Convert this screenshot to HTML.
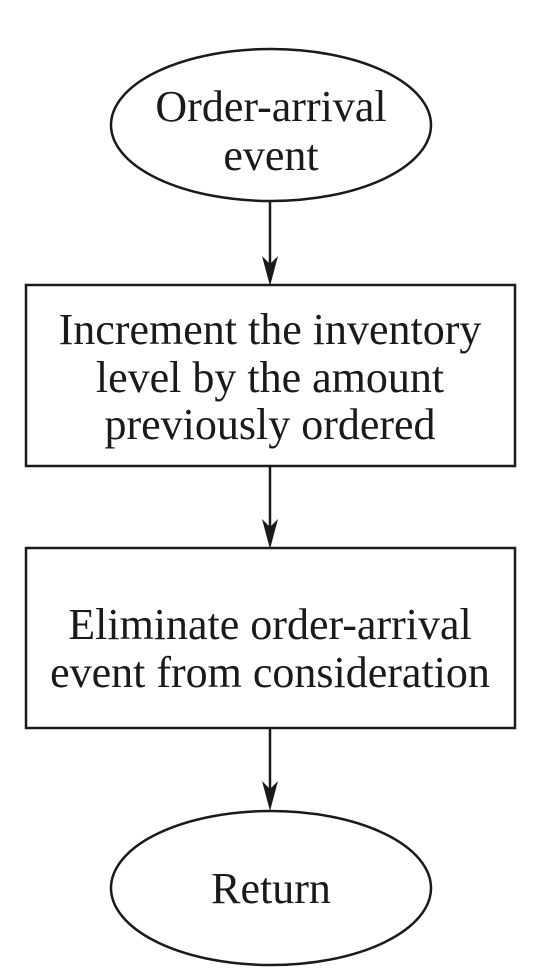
<!DOCTYPE html>
<html><head><style>
html,body{margin:0;padding:0;background:#fff;}
svg{display:block;}
text{font-family:"Liberation Serif",serif;font-size:44px;fill:#1a1a1a;text-anchor:middle;}
</style></head><body>
<svg width="544" height="978" viewBox="0 0 544 978" xmlns="http://www.w3.org/2000/svg">
<g fill="none" stroke="#1a1a1a" stroke-width="2.5">
<ellipse cx="271" cy="125" rx="160" ry="76"/>
<rect x="26" y="285" width="489" height="181"/>
<rect x="26" y="548" width="489" height="180"/>
<ellipse cx="271" cy="888" rx="160" ry="77"/>
<line x1="270" y1="201" x2="270" y2="270"/>
<line x1="270" y1="466" x2="270" y2="533"/>
<line x1="270" y1="728" x2="270" y2="796"/>
</g>
<g fill="#1a1a1a">
<path d="M270 286 L262 256 L270 264 L278 256 Z"/>
<path d="M270 549 L262 519 L270 527 L278 519 Z"/>
<path d="M270 811 L262 781 L270 789 L278 781 Z"/>
</g>
<text x="271" y="121">Order-arrival</text>
<text x="271" y="170">event</text>
<text x="270" y="344">Increment the inventory</text>
<text x="270" y="392">level by the amount</text>
<text x="270" y="439">previously ordered</text>
<text x="270" y="639">Eliminate order-arrival</text>
<text x="270" y="687">event from consideration</text>
<text x="271" y="903">Return</text>
</svg>
</body></html>
